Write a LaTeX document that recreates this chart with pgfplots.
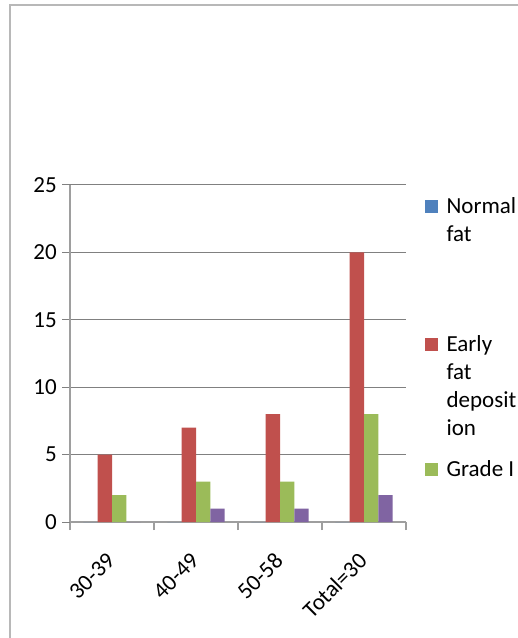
\documentclass[border=0pt]{standalone}
\usepackage{pgfplots}
\pgfplotsset{compat=1.18}
\usepackage{fontspec}
\setmainfont{Carlito}
\definecolor{cblue}{HTML}{4F81BD}
\definecolor{cred}{HTML}{C0504D}
\definecolor{cgreen}{HTML}{9BBB59}
\definecolor{cpurple}{HTML}{8064A2}
\newcommand{\R}{\rule{0pt}{22pt}}
\begin{document}
\begin{tikzpicture}
\path[use as bounding box] (0,0) rectangle (518pt,638pt);
\fill[white] (0,0) rectangle (518pt,638pt);
\draw[color=black!28, line width=2pt] (10pt,-5pt) -- (10pt,633pt) -- (530pt,633pt);
\begin{axis}[
  at={(70pt,116pt)}, anchor=south west,
  scale only axis, width=336pt, height=337pt,
  xmin=-0.5, xmax=3.5, ymin=0, ymax=25,
  ytick={0,5,10,15,20,25},
  xtick={0,1,2,3},
  xticklabels={30-39,40-49,50-58,Total=30},
  minor xtick={-0.5,0.5,1.5,2.5,3.5},
  major x tick style={draw=none},
  minor x tick style={draw=black!38, line width=1.2pt},
  major y tick style={draw=gray, line width=1pt},
  tick align=outside,
  major tick length=8pt, minor tick length=8pt,
  ymajorgrids, grid style={draw=gray, line width=1pt},
  axis x line*=bottom, axis y line*=left,
  axis line style={draw=black!38, line width=1.2pt},
  /pgf/number format/assume math mode=true,
  tick label style={font=\fontsize{23}{28}\selectfont},
  yticklabel style={inner sep=0pt, anchor=east, xshift=-5pt},
  xticklabel style={inner sep=0pt, anchor=east, xshift=-1pt, yshift=-27pt, rotate=45},
  ybar, bar width=14.3pt,
  legend style={draw=none, fill=none, inner sep=0pt, at={(1.0565,0.982)}, anchor=north west,
    font=\fontsize{23}{28}\selectfont, column sep=9pt, row sep=0pt,
    cells={anchor=base west}, nodes={inner sep=0pt, text depth=6pt}},
]
\addplot[fill=cblue, draw=none, bar shift=-21.45pt, forget plot] coordinates {(0,0) (1,0) (2,0) (3,0)};
\addplot[fill=cred, draw=none, bar shift=-7.15pt, forget plot] coordinates {(0,5) (1,7) (2,8) (3,20)};
\addplot[fill=cgreen, draw=none, bar shift=7.15pt, forget plot] coordinates {(0,2) (1,3) (2,3) (3,8)};
\addplot[fill=cpurple, draw=none, bar shift=21.45pt, forget plot] coordinates {(0,0) (1,1) (2,1) (3,2)};
\addlegendimage{legend image code/.code={\fill[cblue] (0pt,1.4pt) rectangle (12pt,13.4pt);}}
\addlegendentry{\R Normal}
\addlegendimage{empty legend}
\addlegendentry{\R fat}
\addlegendimage{empty legend}
\addlegendentry{\rule{0pt}{76pt}}
\addlegendimage{legend image code/.code={\fill[cred] (0pt,1.4pt) rectangle (12pt,13.4pt);}}
\addlegendentry{\R Early}
\addlegendimage{empty legend}
\addlegendentry{\R fat}
\addlegendimage{empty legend}
\addlegendentry{\R deposit}
\addlegendimage{empty legend}
\addlegendentry{\R ion}
\addlegendimage{empty legend}
\addlegendentry{\rule{0pt}{7pt}}
\addlegendimage{legend image code/.code={\fill[cgreen] (0pt,1.4pt) rectangle (12pt,13.4pt);}}
\addlegendentry{\R Grade I}
\end{axis}
\end{tikzpicture}
\end{document}
